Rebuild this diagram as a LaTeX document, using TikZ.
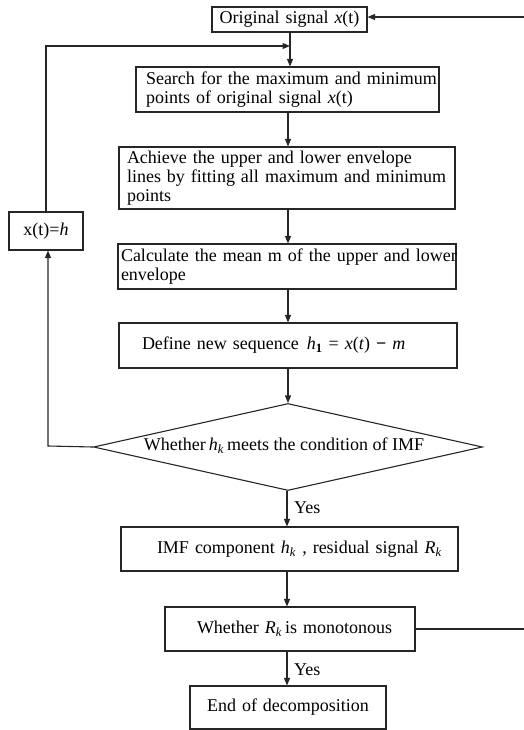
\documentclass[tikz,border=0pt]{standalone}
\usepackage{fontspec}
\setmainfont{Liberation Serif}
\usetikzlibrary{arrows.meta,shapes.geometric}
\begin{document}
\begin{tikzpicture}[x=1pt,y=-1pt,
  every node/.style={font=\fontsize{18}{19}\selectfont, text=black},
  boxnode/.style={draw=black!85, line width=1.1pt, inner ysep=0pt, align=left},
  cond/.style={draw=black!85, line width=1.1pt, diamond, inner sep=0pt, aspect=4.47, minimum width=389pt, minimum height=87pt},
  conn/.style={draw=black!85, line width=1.1pt},
  arr/.style={conn, -{Triangle[length=7.5pt,width=6pt]}},
  lbl/.style={anchor=west, inner sep=0pt}
]
\useasboundingbox (0,0) rectangle (524,730);

\node[boxnode, inner xsep=0pt, text width=155pt, align=center, minimum height=25pt] (b1) at (289.5,19.5) {\mbox{Original signal \textit{x}(t)}};
\node[boxnode, inner xsep=10pt, text width=283pt, minimum height=45pt] (b2) at (287.5,89.5) {\mbox{Search for the maximum and minimum}\\\mbox{points of original signal \textit{x}(t)}};
\node[boxnode, inner xsep=8pt, text width=320pt, minimum height=62pt] (b3) at (287,178) {\mbox{Achieve the upper and lower envelope}\\\mbox{lines by fitting all maximum and minimum}\\\mbox{points}};
\node[boxnode, inner xsep=3pt, text width=332pt, minimum height=45pt] (b4) at (287,266.5) {\mbox{Calculate the mean m of the upper and lower}\\\mbox{envelope}};
\node[boxnode, inner xsep=0pt, text width=338pt, minimum height=45pt] (b5) at (288,345.5) {\mbox{\hspace*{23pt}Define new sequence\hspace{8pt}\textit{h}\textsubscript{\textbf{1}} = \textit{x}(\textit{t}) \textbf{−} \textit{m}}};
\node[cond] (d) at (288,447) {};
\node at (284,446) (dt) {\mbox{Whether\,\textit{h}\textsubscript{\textit{k}}\,meets the condition of IMF}};
\node[boxnode, inner xsep=0pt, text width=337pt, minimum height=44pt] (b6) at (289.5,549) {\mbox{\hspace*{36pt}IMF component \textit{h}\textsubscript{\textit{k}} , residual signal\hspace{6pt}\textit{R}\textsubscript{\textit{k}}}};
\node[boxnode, inner xsep=0pt, text width=250pt, minimum height=44pt] (b7) at (290,629) {\mbox{\hspace*{32pt}Whether \textit{R}\textsubscript{\textit{k}}\,is monotonous}};
\node[boxnode, inner xsep=0pt, text width=196pt, align=center, minimum height=43pt] (b8) at (288,707.5) {\mbox{End of decomposition}};
\node[boxnode, inner xsep=0pt, text width=74pt, align=center, minimum height=38pt] (h) at (46,231) {x(t)=\textit{h}};

\coordinate (j) at (290,46);
\coordinate (tl) at (46,46);
\coordinate (rt) at (526,17);
\coordinate (rb) at (526,629);
\coordinate (bl) at (48,446);

\draw[arr] (b1.south -| j) -- (j |- b2.north);
\draw[arr] (h.north) -- (tl) -- (j);
\draw[arr] (b2.south -| 288,0) -- (288,0 |- b3.north);
\draw[arr] (b3.south -| 288,0) -- (288,0 |- b4.north);
\draw[arr] (b4.south -| 288,0) -- (288,0 |- b5.north);
\draw[arr] (b5.south -| 288,0) -- (d.north -| 288,0);
\draw[arr] (d.south -| 287,0) -- (287,0 |- b6.north);
\draw[arr] (b6.south -| 287,0) -- (287,0 |- b7.north);
\draw[arr] (b7.south -| 287,0) -- (287,0 |- b8.north);
\draw[arr] (d.west) -- (bl) -- (bl |- h.south);
\draw[arr] (b7.east) -- (rb) -- (rt) -- (b1.east |- rt);

\node[lbl] (y1) at (294,508) {Yes};
\node[lbl] (y2) at (294,670) {Yes};
\end{tikzpicture}
\end{document}
